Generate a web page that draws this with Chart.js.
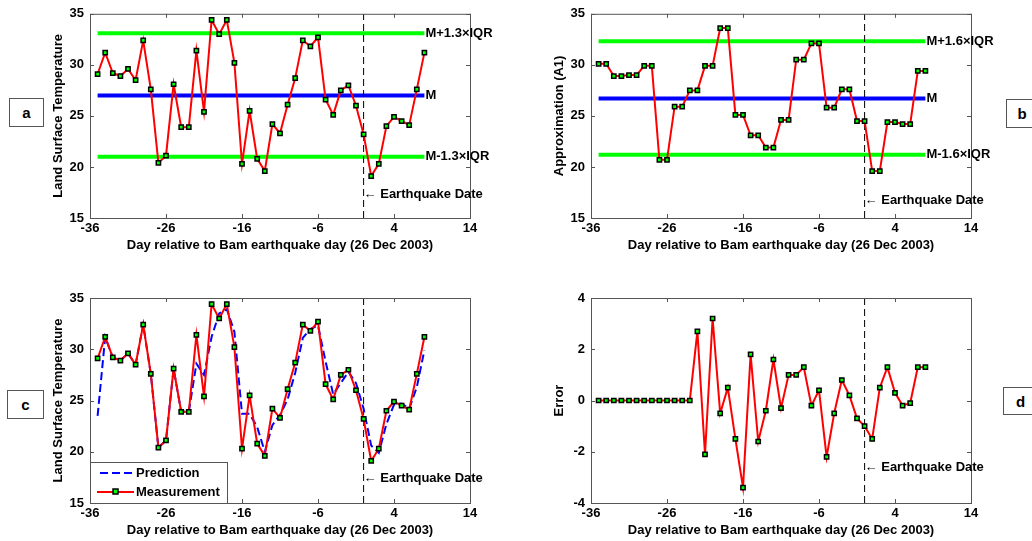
<!DOCTYPE html>
<html>
<head>
<meta charset="utf-8">
<title>Bam earthquake LST anomaly</title>
<script src="https://cdn.jsdelivr.net/npm/chart.js"></script>
<style>
  body { margin: 0; background: #fff; }
  #wrap { position: relative; width: 1032px; height: 541px; overflow: hidden; background: #fff; }
  #wrap canvas { position: absolute; }
  .tag {
    position: absolute; box-sizing: border-box; border: 1px solid #555; background: #fff;
    font: bold 15px "Liberation Sans", Arial, sans-serif; color: #000;
    display: flex; align-items: center; justify-content: center;
  }
</style>
</head>
<body>
<div id="wrap">
  <canvas id="ca" width="516" height="270" style="left:0;top:0"></canvas>
  <canvas id="cb" width="516" height="270" style="left:516px;top:0"></canvas>
  <canvas id="cc" width="516" height="271" style="left:0;top:270px"></canvas>
  <canvas id="cd" width="516" height="271" style="left:516px;top:270px"></canvas>
  <div class="tag" style="left:9px;top:98px;width:35px;height:29px">a</div>
  <div class="tag" style="left:1006px;top:99px;width:32px;height:29px">b</div>
  <div class="tag" style="left:7px;top:390px;width:37px;height:29px">c</div>
  <div class="tag" style="left:1003px;top:387px;width:35px;height:28px">d</div>
</div>
<script>
// days relative to the Bam earthquake (26 Dec 2003)
const days = [-35, -34, -33, -32, -31, -30, -29, -28, -27, -26, -25, -24, -23, -22, -21,
  -20, -19, -18, -17, -16, -15, -14, -13, -12, -11, -10, -9, -8, -7, -6, -5, -4, -3, -2,
  -1, 0, 1, 2, 3, 4, 5, 6, 7, 8];

// land surface temperature (measured)
const lstMeasured = [29.1, 31.2, 29.2, 28.9, 29.6, 28.5, 32.4, 27.6, 20.4, 21.1, 28.1, 23.9,
  23.9, 31.4, 25.4, 34.4, 33.0, 34.4, 30.2, 20.3, 25.5, 20.8, 19.6, 24.2, 23.3, 26.1, 28.7,
  32.4, 31.8, 32.7, 26.6, 25.1, 27.5, 28.0, 26.0, 23.2, 19.1, 20.3, 24.0, 24.9, 24.5, 24.1,
  27.6, 31.2];

// predicted LST
const lstPredicted = [23.5, 31.2, 29.2, 28.9, 29.6, 28.5, 32.4, 27.6, 20.4, 21.1, 28.1, 23.9,
  23.9, 28.6, 27.5, 31.2, 33.5, 33.9, 31.7, 23.7, 23.7, 22.4, 20.0, 22.6, 23.6, 25.1, 27.7,
  31.1, 32.0, 32.3, 28.8, 25.6, 26.7, 27.8, 26.7, 24.2, 20.6, 19.9, 22.7, 24.6, 24.7, 24.2,
  26.3, 29.9];

// wavelet approximation A1
const approxA1 = [30.1, 30.1, 28.9, 28.9, 29.0, 29.0, 29.9, 29.9, 20.7, 20.7, 25.9, 25.9,
  27.5, 27.5, 29.9, 29.9, 33.6, 33.6, 25.1, 25.1, 23.1, 23.1, 21.9, 21.9, 24.6, 24.6, 30.5,
  30.5, 32.1, 32.1, 25.8, 25.8, 27.6, 27.6, 24.5, 24.5, 19.6, 19.6, 24.4, 24.4, 24.2, 24.2,
  29.4, 29.4];

// prediction error
const predError = [0, 0, 0, 0, 0, 0, 0, 0, 0, 0, 0, 0, 0, 2.7, -2.1, 3.2, -0.5, 0.5, -1.5,
  -3.4, 1.8, -1.6, -0.4, 1.6, -0.3, 1.0, 1.0, 1.3, -0.2, 0.4, -2.2, -0.5, 0.8, 0.2, -0.7,
  -1.0, -1.5, 0.5, 1.3, 0.3, -0.2, -0.1, 1.3, 1.3];

// bounds: upper, median, lower
const boundsA = [33.1, 27.0, 21.0];
const boundNamesA = ["M+1.3\u00d7IQR", "M", "M-1.3\u00d7IQR"];
const boundsB = [32.3, 26.7, 21.2];
const boundNamesB = ["M+1.6\u00d7IQR", "M", "M-1.6\u00d7IQR"];
const quakeDay = 0;

const FAMILY = '"Liberation Sans", Arial, sans-serif';
const FONT = 'bold 13px ' + FAMILY;
const X_TITLE = "Day relative to Bam earthquake day (26 Dec 2003)";
const GREEN = "#00ff00", BLUE = "#0000ff", RED = "#ff0000";

const pts = (vals) => vals.map((v, i) => ({ x: days[i], y: v }));
const hline = (v) => [{ x: days[0], y: v }, { x: days[days.length - 1], y: v }];

function measuredSet(vals, label) {
  return {
    label, data: pts(vals), borderColor: RED, borderWidth: 2,
    pointStyle: "rect", pointRadius: 3, pointBackgroundColor: GREEN,
    pointBorderColor: "#000", pointBorderWidth: 1.5
  };
}
function boundSets(bounds) {
  return bounds.map((v, i) => ({
    data: hline(v), borderColor: i === 1 ? BLUE : GREEN, borderWidth: 4, pointRadius: 0
  }));
}
function quakeSet(lo, hi) {
  return {
    data: [{ x: quakeDay, y: lo }, { x: quakeDay, y: hi }], borderColor: "#000",
    borderWidth: 1, borderDash: [7, 4], pointRadius: 0
  };
}

const extras = {
  id: "extras",
  afterDraw(chart) {
    const o = chart.options.plugins.extras;
    const { ctx, chartArea: a, scales: { x, y } } = chart;
    ctx.save();
    // box + inward ticks
    ctx.strokeStyle = "#555";
    ctx.lineWidth = 1;
    ctx.strokeRect(a.left + 0.5, a.top + 0.5, a.right - a.left, a.bottom - a.top);
    ctx.beginPath();
    x.ticks.forEach(t => {
      const px = Math.round(x.getPixelForValue(t.value)) + 0.5;
      ctx.moveTo(px, a.bottom); ctx.lineTo(px, a.bottom - 4);
      ctx.moveTo(px, a.top); ctx.lineTo(px, a.top + 4);
    });
    y.ticks.forEach(t => {
      const py = Math.round(y.getPixelForValue(t.value)) + 0.5;
      ctx.moveTo(a.left, py); ctx.lineTo(a.left + 4, py);
      ctx.moveTo(a.right, py); ctx.lineTo(a.right - 4, py);
    });
    ctx.stroke();

    ctx.fillStyle = "#000";
    ctx.font = FONT;
    ctx.textAlign = "center";
    ctx.textBaseline = "middle";
    ctx.fillText(X_TITLE, (a.left + a.right) / 2, a.bottom + 27);
    ctx.save();
    ctx.translate(a.left - 32, (a.top + a.bottom) / 2);
    ctx.rotate(-Math.PI / 2);
    ctx.fillText(o.yTitle, 0, 0);
    ctx.restore();

    ctx.textAlign = "left";
    (o.notes || []).forEach(n => {
      ctx.fillText(n.text, x.getPixelForValue(n.x) + (n.dx || 0), y.getPixelForValue(n.y));
    });

    if (o.legend) {
      const bx = a.left, by = a.bottom - 41, bw = 137, bh = 41;
      ctx.fillStyle = "#fff";
      ctx.fillRect(bx, by, bw, bh);
      ctx.strokeStyle = "#555";
      ctx.strokeRect(bx + 0.5, by + 0.5, bw, bh);
      ctx.lineWidth = 2;
      ctx.strokeStyle = BLUE;
      ctx.setLineDash([8, 4]);
      ctx.beginPath(); ctx.moveTo(bx + 10, by + 11); ctx.lineTo(bx + 44, by + 11); ctx.stroke();
      ctx.setLineDash([]);
      ctx.strokeStyle = RED;
      ctx.beginPath(); ctx.moveTo(bx + 7, by + 30); ctx.lineTo(bx + 44, by + 30); ctx.stroke();
      ctx.fillStyle = GREEN; ctx.strokeStyle = "#000"; ctx.lineWidth = 1.5;
      ctx.fillRect(bx + 23, by + 27, 5, 5); ctx.strokeRect(bx + 23, by + 27, 5, 5);
      ctx.fillStyle = "#000";
      ctx.fillText("Prediction", bx + 46, by + 11);
      ctx.fillText("Measurement", bx + 46, by + 30);
    }
    ctx.restore();
  }
};

function makeChart(id, datasets, yr, pad, extraOpts) {
  const tickFont = { family: FAMILY, size: 13, weight: "bold" };
  return new Chart(document.getElementById(id), {
    type: "line",
    data: { datasets },
    plugins: [extras],
    options: {
      responsive: false,
      animation: false,
      events: [],
      layout: { padding: pad },
      plugins: { legend: { display: false }, tooltip: { enabled: false }, extras: extraOpts },
      scales: {
        x: {
          type: "linear", min: -36, max: 14,
          ticks: { stepSize: 10, color: "#000", font: tickFont, padding: 3, maxRotation: 0 },
          grid: { display: false, drawTicks: false }, border: { display: false },
          afterFit(s) { s.height = 20; }
        },
        y: {
          min: yr[0], max: yr[1],
          ticks: { stepSize: yr[2], color: "#000", font: tickFont, padding: 6 },
          grid: { display: false, drawTicks: false }, border: { display: false },
          afterFit(s) { s.width = 40; }
        }
      }
    }
  });
}

const boundNotes = (bounds, names) => bounds.map((v, i) => ({ x: days[days.length - 1], y: v, text: names[i], dx: 1 }));

// a
makeChart("ca",
  [measuredSet(lstMeasured, "Measurement"), quakeSet(15, 35), ...boundSets(boundsA)],
  [15, 35, 5], { left: 50, right: 46, top: 13, bottom: 32 },
  { yTitle: "Land Surface Temperature",
    notes: [...boundNotes(boundsA, boundNamesA), { x: quakeDay, y: 17.3, text: "\u2190 Earthquake Date", dx: 0 }] });

// b
makeChart("cb",
  [measuredSet(approxA1, "A1"), quakeSet(15, 35), ...boundSets(boundsB)],
  [15, 35, 5], { left: 35, right: 61, top: 13, bottom: 32 },
  { yTitle: "Approximation (A1)",
    notes: [...boundNotes(boundsB, boundNamesB), { x: quakeDay, y: 16.7, text: "\u2190 Earthquake Date", dx: 0 }] });

// c
makeChart("cc",
  [measuredSet(lstMeasured, "Measurement"),
   { label: "Prediction", data: pts(lstPredicted), borderColor: BLUE, borderWidth: 2, borderDash: [8, 4], pointRadius: 0 },
   quakeSet(15, 35)],
  [15, 35, 5], { left: 50, right: 46, top: 28, bottom: 18 },
  { yTitle: "Land Surface Temperature", legend: true,
    notes: [{ x: quakeDay, y: 17.4, text: "\u2190 Earthquake Date", dx: 0 }] });

// d
makeChart("cd",
  [measuredSet(predError, "Error"), quakeSet(-4, 4)],
  [-4, 4, 2], { left: 35, right: 61, top: 28, bottom: 18 },
  { yTitle: "Error",
    notes: [{ x: quakeDay, y: -2.6, text: "\u2190 Earthquake Date", dx: 0 }] });
</script>
</body>
</html>
